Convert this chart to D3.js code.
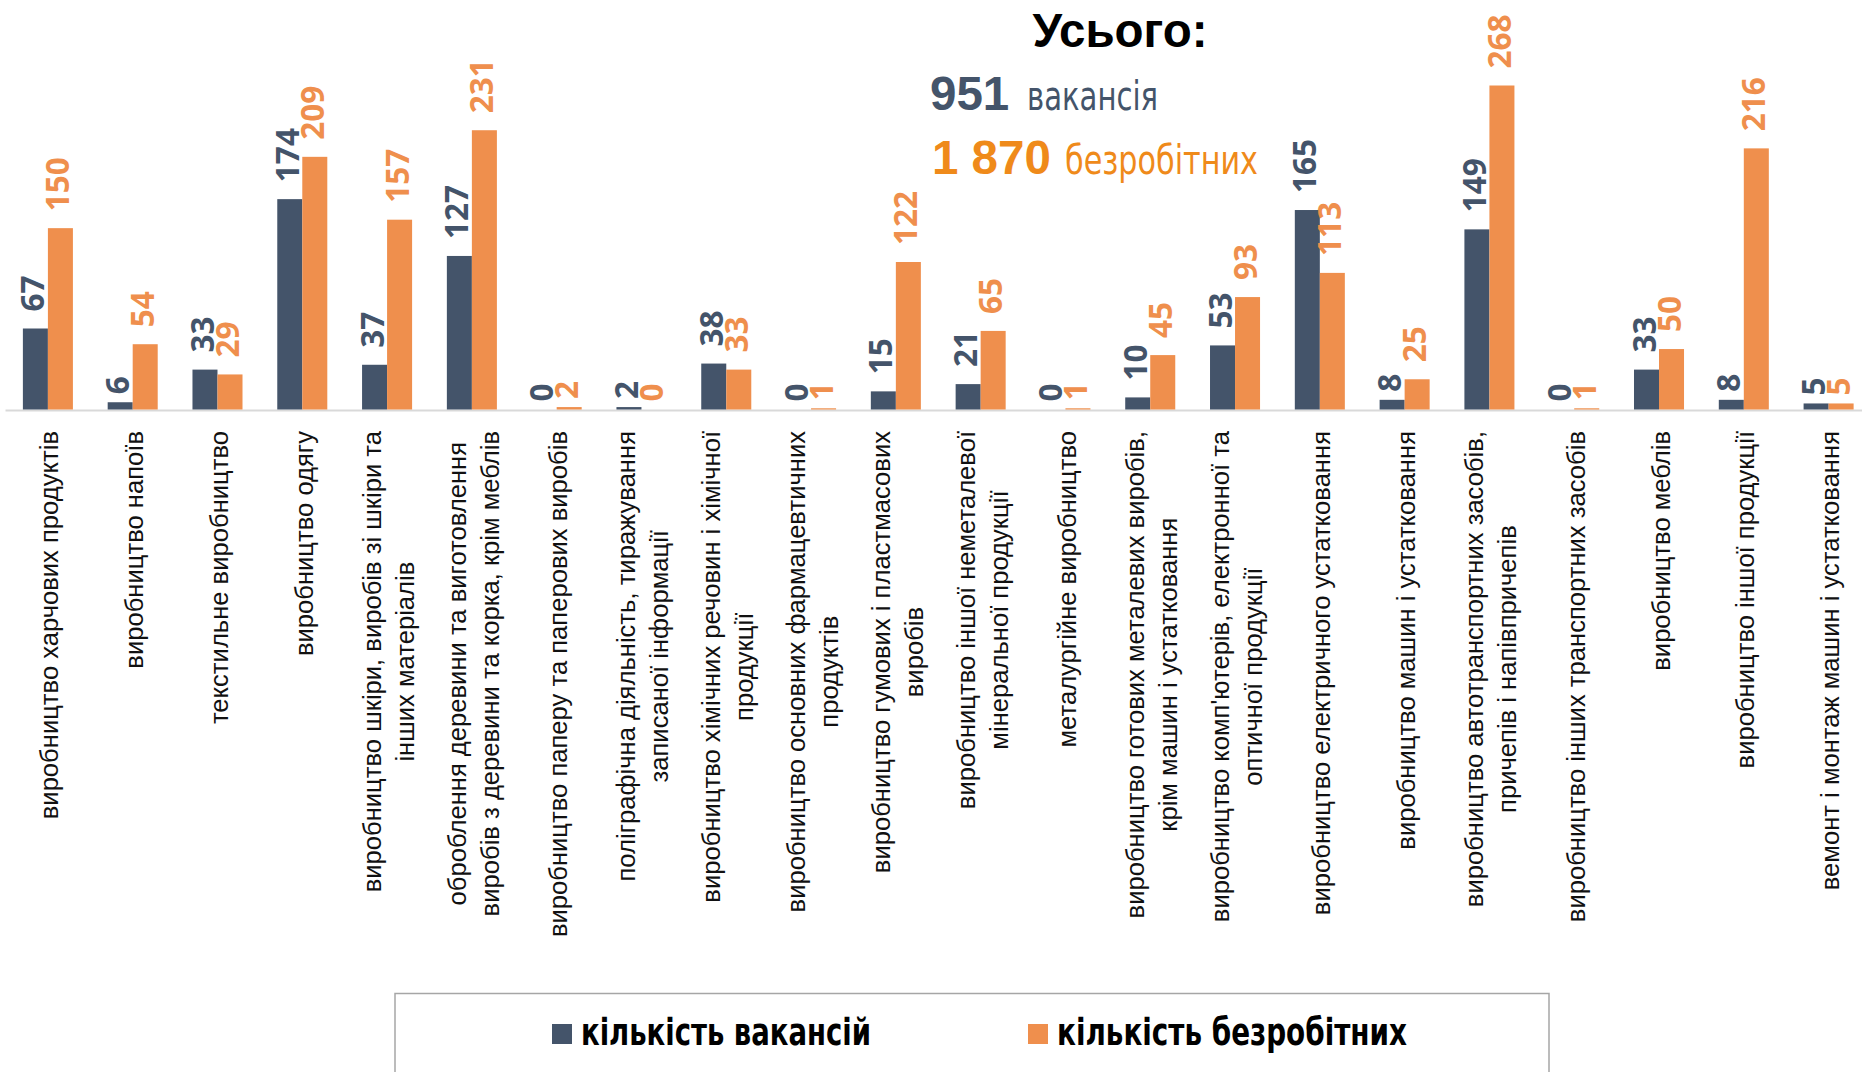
<!DOCTYPE html>
<html>
<head>
<meta charset="utf-8">
<script src="https://cdn.jsdelivr.net/npm/d3@7.9.0/dist/d3.min.js"></script>
<style>
  html, body { margin: 0; padding: 0; background: #fff; }
  svg { display: block; }
</style>
</head>
<body>
<svg id="chart" width="1862" height="1072"></svg>
<script>
// categories, one array of lines per category label
const categories = [
  ["виробництво харчових продуктів"],
  ["виробництво напоїв"],
  ["текстильне виробництво"],
  ["виробництво одягу"],
  ["виробництво шкіри, виробів зі шкіри та", "інших матеріалів"],
  ["оброблення деревини та виготовлення", "виробів з деревини та корка, крім меблів"],
  ["виробництво паперу та паперових виробів"],
  ["поліграфічна діяльність, тиражування", "записаної інформації"],
  ["виробництво хімічних речовин і хімічної", "продукції"],
  ["виробництво основних фармацевтичних", "продуктів"],
  ["виробництво гумових і пластмасових", "виробів"],
  ["виробництво іншої неметалевої", "мінеральної продукції"],
  ["металургійне виробництво"],
  ["виробництво готових металевих виробів,", "крім машин і устатковання"],
  ["виробництво комп'ютерів, електронної та", "оптичної продукції"],
  ["виробництво електричного устатковання"],
  ["виробництво машин і устатковання"],
  ["виробництво автотранспортних засобів,", "причепів і напівпричепів"],
  ["виробництво інших транспортних засобів"],
  ["виробництво меблів"],
  ["виробництво іншої продукції"],
  ["вемонт і монтаж машин і устатковання"]
];

const vacancies  = [67, 6, 33, 174, 37, 127, 0, 2, 38, 0, 15, 21, 0, 10, 53, 165, 8, 149, 0, 33, 8, 5];
const unemployed = [150, 54, 29, 209, 157, 231, 2, 0, 33, 1, 122, 65, 1, 45, 93, 113, 25, 268, 1, 50, 216, 5];

const seriesNames = ["кількість вакансій", "кількість безробітних"];
const seriesColors = ["#44546a", "#ef8f4d"];

const totalTitle = "Усього:";
const totalVacancies = "951";
const totalVacanciesWord = "вакансія";
const totalUnemployed = "1 870";
const totalUnemployedWord = "безробітних";

const svg = d3.select("#chart");
const W = 1862;
const baseY = 409.5;

const sans = "'Liberation Sans', Arial, sans-serif";
const narrow = "'Liberation Sans Narrow', 'DejaVu Sans Condensed', 'Liberation Sans', sans-serif";

const x = d3.scaleBand()
  .domain(d3.range(categories.length))
  .range([5.5, 1871])
  .paddingInner(0.41)
  .paddingOuter(0.205);

const xs = d3.scaleBand()
  .domain([0, 1])
  .range([0, x.bandwidth()]);

const y = d3.scaleLinear()
  .domain([0, 268])
  .range([baseY, 85.5]);

// axis line
svg.append("line")
  .attr("x1", 5.5).attr("x2", W)
  .attr("y1", baseY + 1).attr("y2", baseY + 1)
  .attr("stroke", "#d9d9d9")
  .attr("stroke-width", 2);

const data = [vacancies, unemployed];

data.forEach((vals, s) => {
  const g = svg.append("g");
  g.selectAll("rect")
    .data(vals)
    .join("rect")
    .attr("x", (d, i) => x(i) + xs(s))
    .attr("width", xs.bandwidth())
    .attr("y", d => y(d))
    .attr("height", d => baseY - y(d))
    .attr("fill", seriesColors[s]);

  g.selectAll("text")
    .data(vals)
    .join("text")
    .attr("transform", (d, i) => {
      const cx = x(i) + xs(s) + xs.bandwidth() / 2 + 9;
      const gap = String(d).length > 1 ? 17 : 8;
      return `translate(${cx},${y(d) - gap}) rotate(-90)`;
    })
    .attr("font-family", "'Open Sans', sans-serif")
    .attr("font-weight", 700)
    .attr("font-size", 31.5)
    .attr("fill", seriesColors[s])
    .text(d => d);
});

// category labels, rotated, top-aligned under the axis
const labelTop = 431;
const lineStep = 33;
categories.forEach((lines, i) => {
  const cx = x(i) + x.bandwidth() / 2;
  const g = svg.append("g")
    .attr("transform", `translate(${cx},${labelTop}) rotate(-90)`);
  const texts = lines.map((ln, k) => g.append("text")
    .attr("y", 10.5 + (k - (lines.length - 1) / 2) * lineStep)
    .attr("text-anchor", "middle")
    .attr("font-family", sans)
    .attr("font-size", 25.6)
    .attr("fill", "#111")
    .text(ln));
  const L = d3.max(texts, t => t.node().getComputedTextLength());
  texts.forEach(t => t.attr("x", -L / 2));
});

// totals block
svg.append("text")
  .attr("x", 1120).attr("y", 46.5)
  .attr("text-anchor", "middle")
  .attr("font-family", sans)
  .attr("font-weight", 700)
  .attr("font-size", 47.5)
  .attr("fill", "#000")
  .text(totalTitle);

svg.append("text")
  .attr("x", 930).attr("y", 110)
  .attr("font-family", sans)
  .attr("font-weight", 700).attr("font-size", 47.5)
  .attr("fill", seriesColors[0])
  .text(totalVacancies);
svg.append("text")
  .attr("x", 1027).attr("y", 110)
  .attr("font-family", narrow)
  .attr("font-size", 40)
  .attr("textLength", 131)
  .attr("lengthAdjust", "spacingAndGlyphs")
  .attr("fill", seriesColors[0])
  .text(totalVacanciesWord);

svg.append("text")
  .attr("x", 932).attr("y", 174)
  .attr("font-family", sans)
  .attr("font-weight", 700).attr("font-size", 47.5)
  .attr("fill", "#ef8a1a")
  .text(totalUnemployed);
svg.append("text")
  .attr("x", 1065).attr("y", 174)
  .attr("font-family", narrow)
  .attr("font-size", 41.5)
  .attr("textLength", 193)
  .attr("lengthAdjust", "spacingAndGlyphs")
  .attr("fill", "#ef8a1a")
  .text(totalUnemployedWord);

// legend
svg.append("rect")
  .attr("x", 395).attr("y", 993.5)
  .attr("width", 1154).attr("height", 100)
  .attr("fill", "none")
  .attr("stroke", "#a6a6a6")
  .attr("stroke-width", 1.5);

const legendX = [552, 1028];
const legendLen = [290, 350];
seriesNames.forEach((name, s) => {
  svg.append("rect")
    .attr("x", legendX[s]).attr("y", 1024)
    .attr("width", 20).attr("height", 20)
    .attr("fill", seriesColors[s]);
  svg.append("text")
    .attr("x", legendX[s] + 29).attr("y", 1045)
    .attr("font-family", narrow)
    .attr("font-weight", 700)
    .attr("font-size", 37)
    .attr("textLength", legendLen[s])
    .attr("lengthAdjust", "spacingAndGlyphs")
    .attr("fill", "#000")
    .text(name);
});
</script>
</body>
</html>
